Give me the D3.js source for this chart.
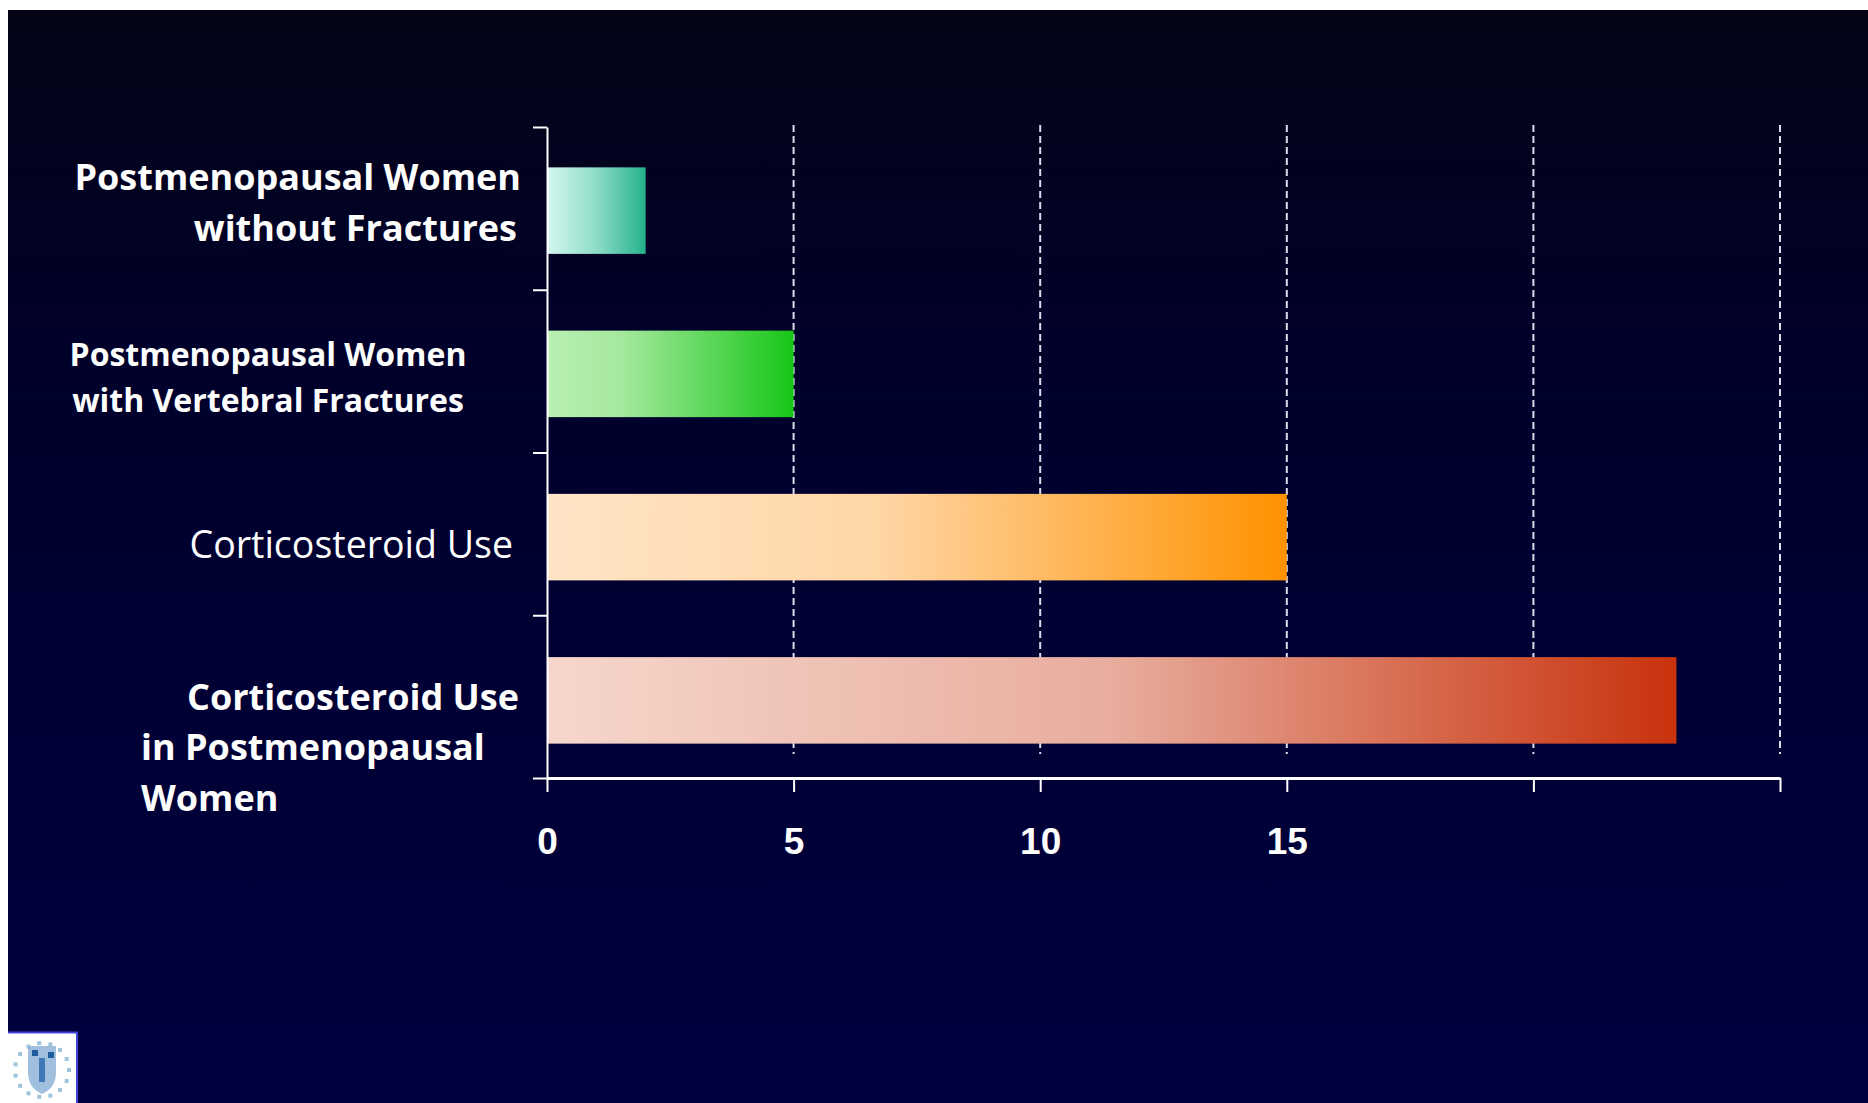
<!DOCTYPE html>
<html>
<head>
<meta charset="utf-8">
<script src="https://cdn.jsdelivr.net/npm/d3@7"></script>
<style>
  html, body { margin: 0; padding: 0; background: #ffffff; }
  svg { display: block; }
</style>
</head>
<body>
<svg id="chart" width="1868" height="1103"></svg>
<script>
// Relative risk by patient group
const categories = [
  "Postmenopausal Women without Fractures",
  "Postmenopausal Women with Vertebral Fractures",
  "Corticosteroid Use",
  "Corticosteroid Use in Postmenopausal Women"
];
const values = [2, 5, 15, 22.9];
const labelLines = [
  ["Postmenopausal Women", "without Fractures"],
  ["Postmenopausal Women", "with Vertebral Fractures"],
  ["Corticosteroid Use"],
  ["Corticosteroid Use", "in Postmenopausal", "Women"]
];
const gridValues = [5, 10, 15, 20, 25];
const tickValues = [0, 5, 10, 15, 20, 25];
const tickLabels = ["0", "5", "10", "15", "", ""];

// Colour ramps for each bar (light on the left, saturated on the right)
const barRamps = [
  ["#d4f6f0", "#8edcc8", "#24b28c"],
  ["#b8f0b2", "#a6e89e", "#18c618"],
  ["#ffe4c6", "#ffd6a6", "#ff9200"],
  ["#f6d6cc", "#e8ad9e", "#c8320c"]
];

const svg = d3.select("#chart");
const W = 1868, H = 1103;
const defs = svg.append("defs");

// slide background
const bg = defs.append("linearGradient").attr("id", "bg")
  .attr("x1", 0).attr("y1", 0).attr("x2", 0).attr("y2", 1);
bg.append("stop").attr("offset", "0%").attr("stop-color", "#040416");
bg.append("stop").attr("offset", "30%").attr("stop-color", "#00002a");
bg.append("stop").attr("offset", "100%").attr("stop-color", "#000040");
svg.append("rect").attr("x", 8).attr("y", 10).attr("width", W - 8).attr("height", H - 10)
  .attr("fill", "url(#bg)");

barRamps.forEach((ramp, i) => {
  const g = defs.append("linearGradient").attr("id", "bar" + i)
    .attr("x1", 0).attr("y1", 0).attr("x2", 1).attr("y2", 0);
  const mid = i === 2 ? 0.45 : (i === 1 ? 0.3 : 0.5);
  g.append("stop").attr("offset", 0).attr("stop-color", ramp[0]);
  g.append("stop").attr("offset", mid).attr("stop-color", ramp[1]);
  g.append("stop").attr("offset", 1).attr("stop-color", ramp[2]);
});

// scales
const x = d3.scaleLinear().domain([0, 25]).range([547, 1780]);
const y = d3.scaleBand().domain(categories).range([129, 782])
  .paddingInner(0.47).paddingOuter(0.235);
const yEdge = d3.scaleLinear().domain([0, categories.length]).range([127, 778]);

// dashed grid lines
svg.append("g").selectAll("line").data(gridValues).join("line")
  .attr("x1", d => x(d)).attr("x2", d => x(d))
  .attr("y1", 125).attr("y2", 754)
  .attr("stroke", "#dcdcec").attr("stroke-width", 2)
  .attr("stroke-dasharray", "7 4");

// bars
svg.append("g").selectAll("rect").data(values).join("rect")
  .attr("x", x(0))
  .attr("y", (d, i) => y(categories[i]))
  .attr("width", d => x(d) - x(0))
  .attr("height", y.bandwidth())
  .attr("fill", (d, i) => `url(#bar${i})`);

// x axis
const xAxis = svg.append("g").attr("transform", "translate(0,778)")
  .call(d3.axisBottom(x).tickValues(tickValues)
    .tickFormat((d, i) => tickLabels[i]).tickSize(14).tickSizeOuter(0));
xAxis.select(".domain").attr("stroke", "#ffffff").attr("stroke-width", 3);
xAxis.selectAll(".tick line").attr("stroke", "#ffffff").attr("stroke-width", 2);
xAxis.selectAll(".tick text")
  .attr("y", 76).attr("dy", 0)
  .attr("fill", "#ffffff")
  .style("font-family", "'Liberation Sans', Arial, sans-serif")
  .style("font-weight", "bold")
  .style("font-size", "37px");

// y axis with ticks between the groups
const yAxis = svg.append("g").attr("transform", "translate(547,0)")
  .call(d3.axisLeft(yEdge).ticks(categories.length).tickFormat("").tickSize(14).tickSizeOuter(0));
yAxis.select(".domain").attr("stroke", "#ffffff").attr("stroke-width", 2);
yAxis.selectAll(".tick line").attr("stroke", "#ffffff").attr("stroke-width", 2);

// category labels
const labelFont = "'Open Sans', 'Noto Sans', sans-serif";
const labelStyle = [
  { anchor: "end", x: [521, 517], dy: [-21, 30], size: 36, weight: "bold" },
  { anchor: "middle", x: [268, 268], dy: [-8, 38], size: 32, weight: "bold" },
  { anchor: "end", x: [513], dy: [21], size: 37.5, weight: "normal" },
  { anchor: "start", x: [187, 141, 141], dy: [10, 60, 111], size: 36, weight: "bold" }
];
const labels = svg.append("g");
categories.forEach((c, i) => {
  const cy = y(c) + y.bandwidth() / 2;
  const st = labelStyle[i];
  labelLines[i].forEach((line, j) => {
    labels.append("text")
      .attr("x", st.x[j]).attr("y", cy + st.dy[j])
      .attr("text-anchor", st.anchor)
      .attr("fill", "#ffffff")
      .style("font-family", labelFont)
      .style("font-weight", st.weight)
      .style("font-size", st.size + "px")
      .text(line);
  });
});

// small crest badge in the corner
const badge = svg.append("g").attr("transform", "translate(8,1032)");
badge.append("rect").attr("width", 69).attr("height", 71).attr("fill", "#ffffff");
badge.append("line").attr("x1", 0).attr("x2", 70).attr("y1", 0.5).attr("y2", 0.5)
  .attr("stroke", "#4444dd").attr("stroke-width", 2);
badge.append("line").attr("x1", 69).attr("x2", 69).attr("y1", 0).attr("y2", 71)
  .attr("stroke", "#4444dd").attr("stroke-width", 2);
const ring = d3.range(0, 360, 24);
badge.selectAll("rect.dot").data(ring).join("rect").attr("class", "dot")
  .attr("x", d => 34 + 27 * Math.cos(d * Math.PI / 180) - 2)
  .attr("y", d => 38 + 27 * Math.sin(d * Math.PI / 180) - 2)
  .attr("width", 4).attr("height", 4).attr("fill", "#9ec4dc");
badge.append("path")
  .attr("d", "M20,14 L48,14 L48,40 Q48,56 34,62 Q20,56 20,40 Z")
  .attr("fill", "#8fb4d8").attr("opacity", 0.85);
badge.append("rect").attr("x", 24).attr("y", 18).attr("width", 6).attr("height", 6).attr("fill", "#1f5c9e");
badge.append("rect").attr("x", 40).attr("y", 20).attr("width", 6).attr("height", 6).attr("fill", "#1f5c9e");
badge.append("rect").attr("x", 31).attr("y", 26).attr("width", 6).attr("height", 24).attr("fill", "#3f78b4");
</script>
</body>
</html>
